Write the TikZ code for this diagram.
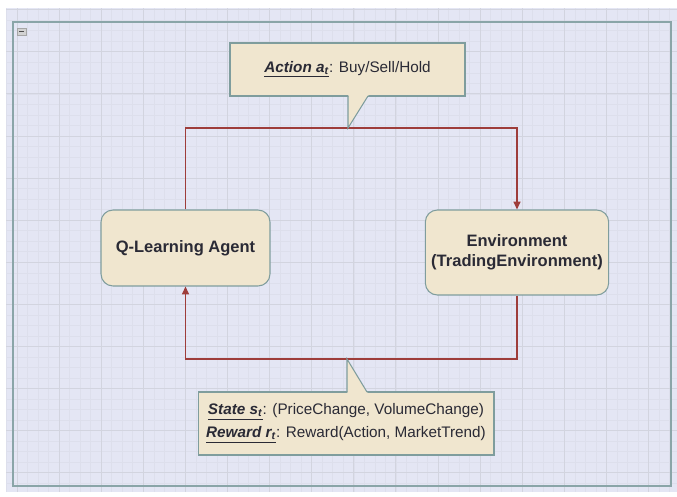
\documentclass[tikz,border=0pt]{standalone}
\usepackage{fontspec}
\setmainfont{Liberation Sans}
\usepackage{xcolor}
\usetikzlibrary{arrows,arrows.meta,positioning,shapes}
\definecolor{gridbg}{HTML}{E4E6F4}
\definecolor{gridminor}{HTML}{DDDFEC}
\definecolor{gridmajor}{HTML}{D2D4DF}
\definecolor{framecol}{HTML}{8AA5A8}
\definecolor{boxfill}{HTML}{F0E6CF}
\definecolor{boxline}{HTML}{7F9D9D}
\definecolor{linkred}{HTML}{9E3D3A}
\definecolor{txtcol}{HTML}{2A2A35}

\begin{document}
\begin{tikzpicture}[x=0.02cm, y=-0.02cm]
    \tikzstyle{block} = [rectangle, draw=boxline, fill=boxfill, line width=0.6pt, rounded corners=0.24cm, align=center, text=txtcol, font=\fontsize{9.4}{11.3}\selectfont\bfseries]
    \tikzstyle{note} = [rectangle, draw=boxline, fill=boxfill, line width=0.6pt, align=center, text=txtcol, font=\fontsize{8.7}{13}\selectfont]
    \tikzstyle{arrow} = [draw=linkred, line width=0.8pt, -{Triangle[length=4.5pt,width=4pt]}]

    \useasboundingbox (0,0) rectangle (677,497);
    \fill[white] (0,0) rectangle (677,497);
    \fill[gridbg] (6,8) rectangle (677,492);
    \foreach \i in {0,...,63}
        \draw[gridminor, line width=0.25pt] ({6.4+\i*10.525},8) -- ({6.4+\i*10.525},492);
    \foreach \j in {0,...,45}
        \draw[gridminor, line width=0.25pt] (6,{9.6+\j*10.525}) -- (677,{9.6+\j*10.525});
    \foreach \i in {0,...,15}
        \draw[gridmajor, line width=0.45pt] ({16.9+\i*42.1},8) -- ({16.9+\i*42.1},492);
    \foreach \j in {0,...,11}
        \draw[gridmajor, line width=0.45pt] (6,{9.6+\j*42.1}) -- (677,{9.6+\j*42.1});

    \draw[framecol, line width=0.9pt] (13,22) rectangle (671,486);
    \draw[draw=gray!70, fill=gray!35, line width=0.4pt] (17,28) rectangle (26,35);
    \draw[black!70, line width=0.9pt] (19,31.5) -- (24,31.5);

    \node [block, minimum width=3.38cm, minimum height=1.52cm] (agent) at (185.5,248) {Q-Learning Agent};
    \node [block, minimum width=3.6cm, minimum height=1.7cm] (env) at (517,252.5) {Environment\\(TradingEnvironment)};

    \coordinate (acttip) at (348,128);
    \coordinate (statetip) at (347,359);

    \draw [arrow] (agent.north) |- (acttip) -| (env.north);
    \draw [arrow] (env.south) |- (statetip) -| (agent.south);

    \node [note, minimum width=4.7cm, minimum height=1.06cm] (action) at (347.5,69.5) {\underline{\textbf{\textit{Action a\textsubscript{t}}}}: Buy/Sell/Hold};
    \fill[boxfill] (348.4,95) -- (368.6,95) -- (acttip) -- cycle;
    \draw[boxline, line width=0.6pt] (348,96) -- (acttip) -- (368,96);

    \node [note, minimum width=5.92cm, minimum height=1.26cm] (state) at (346,423.5) {\underline{\textbf{\textit{State s\textsubscript{t}}}}: (PriceChange, VolumeChange)\\\underline{\textbf{\textit{Reward r\textsubscript{t}}}}: Reward(Action, MarketTrend)};
    \fill[boxfill] (347.4,393) -- (367.6,393) -- (statetip) -- cycle;
    \draw[boxline, line width=0.6pt] (347,392) -- (statetip) -- (367,392);

\end{tikzpicture}
\end{document}
